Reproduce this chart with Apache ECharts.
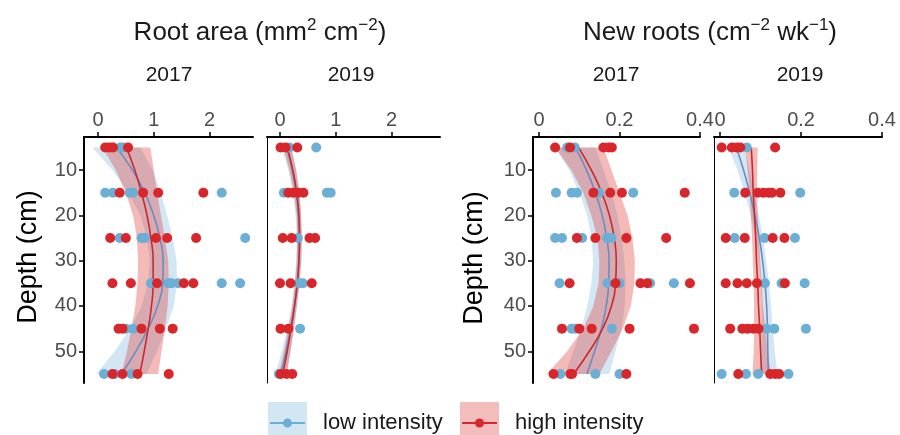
<!DOCTYPE html>
<html>
<head>
<meta charset="utf-8">
<script src="https://cdn.jsdelivr.net/npm/echarts@6/dist/echarts.min.js"></script>
<style>
  html, body { margin: 0; padding: 0; background: #fff; }
  #chart { width: 900px; height: 435px; }
</style>
</head>
<body>
<div id="chart"></div>
<script>
// depths of the fitted curves and tick labels
var depths = [5, 10, 15, 20, 25, 30, 35, 40, 45, 50, 55];
var depthTicks = [10, 20, 30, 40, 50];
var rootAreaTicks = [0, 1, 2];
var newRootsTicks = [0, 0.2, 0.4];

// observations [value, depth]
var rootArea2017Low = [[0.25,5],[0.40,5],[0.45,5],[0.13,15],[0.27,15],[0.57,15],[0.63,15],[2.22,15],
  [0.39,25],[0.78,25],[0.84,25],[2.64,25],[0.95,35],[1.26,35],[1.32,35],[1.44,35],[2.22,35],[2.55,35],
  [0.50,45],[0.63,45],[0.11,55],[0.30,55],[0.60,55]];
var rootArea2017High = [[0.13,5],[0.20,5],[0.27,5],[0.54,5],[0.39,15],[0.81,15],[1.08,15],[1.89,15],
  [0.22,25],[0.50,25],[1.04,25],[1.24,25],[1.76,25],[0.26,35],[0.59,35],[1.06,35],[1.54,35],[1.71,35],
  [0.37,45],[0.44,45],[0.78,45],[1.11,45],[1.34,45],[0.26,55],[0.44,55],[0.71,55],[1.27,55]];
var rootArea2019Low = [[0.17,5],[0.65,5],[0.07,15],[0.84,15],[0.91,15],[0.32,25],[0.34,35],[0.41,35],
  [0.36,45],[-0.02,55]];
var rootArea2019High = [[0.01,5],[0.10,5],[0.31,5],[0.15,15],[0.24,15],[0.33,15],[0.42,15],
  [0.05,25],[0.21,25],[0.53,25],[0.63,25],[0.00,35],[0.19,35],[0.57,35],[0.01,45],[0.15,45],
  [0.01,55],[0.12,55],[0.22,55]];
var newRoots2017Low = [[0.070,5],[0.089,5],[0.042,15],[0.081,15],[0.094,15],[0.149,15],[0.234,15],
  [0.040,25],[0.057,25],[0.107,25],[0.169,25],[0.180,25],[0.051,35],[0.170,35],[0.200,35],[0.276,35],[0.335,35],
  [0.081,45],[0.090,45],[0.181,45],[0.053,55],[0.140,55],[0.200,55]];
var newRoots2017High = [[0.040,5],[0.077,5],[0.160,5],[0.173,5],[0.181,5],[0.135,15],[0.177,15],[0.206,15],[0.362,15],
  [0.094,25],[0.140,25],[0.217,25],[0.316,25],[0.076,35],[0.190,35],[0.252,35],[0.269,35],[0.375,35],
  [0.057,45],[0.100,45],[0.131,45],[0.225,45],[0.385,45],[0.036,55],[0.078,55],[0.082,55],[0.217,55]];
var newRoots2019Low = [[0.066,5],[0.035,15],[0.198,15],[0.036,25],[0.110,25],[0.185,25],
  [0.111,35],[0.152,35],[0.209,35],[0.115,45],[0.134,45],[0.212,45],[0.004,55],[0.064,55],[0.094,55],[0.169,55]];
var newRoots2019High = [[0.004,5],[0.029,5],[0.041,5],[0.050,5],[0.136,5],[0.062,15],[0.093,15],[0.107,15],[0.120,15],[0.128,15],[0.149,15],
  [0.014,25],[0.061,25],[0.130,25],[0.159,25],[0.014,35],[0.043,35],[0.066,35],[0.091,35],[0.160,35],
  [0.025,45],[0.055,45],[0.068,45],[0.082,45],[0.095,45],[0.045,55],[0.124,55],[0.136,55],[0.146,55]];

// fitted curves (fit, lower, upper) at each depth
var ra17LowFit = [0.33, 0.62, 0.84, 1.00, 1.11, 1.17, 1.16, 1.07, 0.90, 0.68, 0.42];
var ra17LowLo  = [-0.10, 0.26, 0.55, 0.76, 0.88, 0.93, 0.90, 0.78, 0.58, 0.30, -0.03];
var ra17LowHi  = [0.76, 0.98, 1.13, 1.24, 1.34, 1.41, 1.42, 1.36, 1.22, 1.06, 0.87];
var ra17HighFit = [0.51, 0.66, 0.78, 0.88, 0.95, 0.99, 0.99, 0.96, 0.90, 0.83, 0.75];
var ra17HighLo  = [0.08, 0.32, 0.50, 0.63, 0.70, 0.72, 0.71, 0.67, 0.60, 0.52, 0.42];
var ra17HighHi  = [0.94, 1.00, 1.06, 1.13, 1.20, 1.26, 1.27, 1.25, 1.20, 1.14, 1.08];

var ra19LowFit = [0.12, 0.22, 0.29, 0.33, 0.35, 0.34, 0.31, 0.26, 0.19, 0.11, 0.02];
var ra19LowLo  = [0.03, 0.15, 0.23, 0.28, 0.30, 0.29, 0.26, 0.21, 0.13, 0.03, -0.08];
var ra19LowHi  = [0.21, 0.29, 0.35, 0.38, 0.40, 0.39, 0.36, 0.31, 0.25, 0.19, 0.12];
var ra19HighFit = [0.13, 0.23, 0.30, 0.34, 0.35, 0.34, 0.31, 0.26, 0.20, 0.13, 0.05];
var ra19HighLo  = [0.06, 0.17, 0.25, 0.30, 0.31, 0.30, 0.27, 0.22, 0.15, 0.07, -0.02];
var ra19HighHi  = [0.20, 0.29, 0.35, 0.38, 0.39, 0.38, 0.35, 0.30, 0.25, 0.19, 0.12];

var nr17LowFit = [0.090, 0.118, 0.140, 0.157, 0.168, 0.174, 0.173, 0.167, 0.155, 0.138, 0.119];
var nr17LowLo  = [0.040, 0.075, 0.100, 0.120, 0.130, 0.135, 0.130, 0.120, 0.105, 0.085, 0.065];
var nr17LowHi  = [0.140, 0.160, 0.180, 0.195, 0.205, 0.212, 0.215, 0.213, 0.205, 0.190, 0.175];
var nr17HighFit = [0.098, 0.130, 0.156, 0.175, 0.187, 0.192, 0.190, 0.180, 0.158, 0.125, 0.086];
var nr17HighLo  = [0.040, 0.080, 0.110, 0.130, 0.145, 0.150, 0.148, 0.135, 0.110, 0.070, 0.020];
var nr17HighHi  = [0.160, 0.180, 0.200, 0.220, 0.232, 0.238, 0.237, 0.228, 0.208, 0.180, 0.150];

var nr19LowFit = [0.040, 0.058, 0.073, 0.086, 0.097, 0.105, 0.111, 0.115, 0.117, 0.118, 0.119];
var nr19LowLo  = [0.020, 0.043, 0.061, 0.076, 0.088, 0.096, 0.101, 0.104, 0.104, 0.101, 0.096];
var nr19LowHi  = [0.060, 0.073, 0.085, 0.096, 0.106, 0.114, 0.121, 0.126, 0.130, 0.135, 0.142];
var nr19HighFit = [0.077, 0.080, 0.082, 0.085, 0.088, 0.090, 0.093, 0.095, 0.098, 0.100, 0.103];
var nr19HighLo  = [0.062, 0.068, 0.073, 0.076, 0.079, 0.081, 0.083, 0.084, 0.084, 0.083, 0.080];
var nr19HighHi  = [0.093, 0.092, 0.091, 0.093, 0.096, 0.099, 0.103, 0.106, 0.112, 0.117, 0.126];

var blue = '#6baed6', red = '#d9262b';
var blueBand = 'rgba(107,174,214,0.3)', redBand = 'rgba(222,45,38,0.33)';
var font = 'Liberation Sans';

function xAxis(gi, min, max, ticks) {
  return {
    gridIndex: gi, type: 'value', position: 'top', min: min, max: max,
    axisLine: { show: true, onZero: false, lineStyle: { color: '#000', width: 2 } },
    axisTick: { show: true, length: 5, customValues: ticks, lineStyle: { color: '#000', width: 1.5 } },
    axisLabel: { customValues: ticks, color: '#4d4d4d', fontSize: 20, fontFamily: font, margin: 7 },
    splitLine: { show: false }
  };
}

function yAxis(gi, labels) {
  return {
    gridIndex: gi, type: 'value', inverse: true, min: 2.7, max: 57,
    axisLine: { show: true, onZero: false, lineStyle: { color: '#000', width: labels ? 2 : 1 } },
    axisTick: { show: labels, length: 5, customValues: depthTicks, lineStyle: { color: '#000', width: 1.5 } },
    axisLabel: { show: labels, customValues: depthTicks, color: '#4d4d4d', fontSize: 20, fontFamily: font, margin: 7 },
    splitLine: { show: false }
  };
}

function band(gi, lo, hi, color) {
  return {
    type: 'custom', xAxisIndex: gi, yAxisIndex: gi, silent: true, z: 2,
    data: [[lo[0], depths[0]]],
    renderItem: function (params, api) {
      var pts = [];
      for (var i = 0; i < depths.length; i++) pts.push(api.coord([lo[i], depths[i]]));
      for (var j = depths.length - 1; j >= 0; j--) pts.push(api.coord([hi[j], depths[j]]));
      return { type: 'polygon', shape: { points: pts }, style: { fill: color } };
    }
  };
}

function curve(gi, fit, color) {
  return {
    type: 'line', xAxisIndex: gi, yAxisIndex: gi, silent: true, z: 2,
    smooth: true, showSymbol: false,
    lineStyle: { color: color, width: 1.6 },
    data: fit.map(function (v, i) { return [v, depths[i]]; })
  };
}

function dots(gi, data, color) {
  return {
    type: 'scatter', xAxisIndex: gi, yAxisIndex: gi, z: 3,
    symbolSize: 10, itemStyle: { color: color, opacity: 1 },
    data: data
  };
}

var series = [];
var panels = [
  [rootArea2017Low, rootArea2017High, ra17LowFit, ra17LowLo, ra17LowHi, ra17HighFit, ra17HighLo, ra17HighHi],
  [rootArea2019Low, rootArea2019High, ra19LowFit, ra19LowLo, ra19LowHi, ra19HighFit, ra19HighLo, ra19HighHi],
  [newRoots2017Low, newRoots2017High, nr17LowFit, nr17LowLo, nr17LowHi, nr17HighFit, nr17HighLo, nr17HighHi],
  [newRoots2019Low, newRoots2019High, nr19LowFit, nr19LowLo, nr19LowHi, nr19HighFit, nr19HighLo, nr19HighHi]
];
panels.forEach(function (p, gi) {
  series.push(band(gi, p[3], p[4], blueBand));
  series.push(curve(gi, p[2], '#6a8cbf'));
  series.push(band(gi, p[6], p[7], redBand));
  series.push(curve(gi, p[5], '#c62a30'));
  series.push(dots(gi, p[0], blue));
  series.push(dots(gi, p[1], red));
});

function label(x, y, text, size, extra) {
  var s = { text: text, fontSize: size, fontFamily: font, fill: '#1a1a1a', align: 'center', verticalAlign: 'middle' };
  for (var k in extra) s[k] = extra[k];
  return { type: 'text', x: x, y: y, style: s };
}

var titleRich = {
  n: { fontSize: 26, fontFamily: font, color: '#000', lineHeight: 32 },
  s: { fontSize: 17, fontFamily: font, color: '#000', verticalAlign: 'top', lineHeight: 17 }
};

var graphics = [
  label(260, 33, '{n|Root area (mm}{s|2}{n| cm}{s|\u22122}{n|)}', 26, { rich: titleRich }),
  label(710, 33, '{n|New roots (cm}{s|\u22122}{n| wk}{s|\u22121}{n|)}', 26, { rich: titleRich }),
  label(169, 75, '2017', 21),
  label(351, 75, '2019', 21),
  label(616, 75, '2017', 21),
  label(800, 75, '2019', 21),
  { type: 'text', x: 29, y: 257, rotation: Math.PI / 2,
    style: { text: 'Depth (cm)', fontSize: 27, fontFamily: font, fill: '#000', align: 'center', verticalAlign: 'middle' } },
  { type: 'text', x: 475, y: 258, rotation: Math.PI / 2,
    style: { text: 'Depth (cm)', fontSize: 27, fontFamily: font, fill: '#000', align: 'center', verticalAlign: 'middle' } },
  // legend keys
  { type: 'rect', shape: { x: 268, y: 402, width: 39, height: 34 }, style: { fill: '#d3e7f3' } },
  { type: 'line', shape: { x1: 270, y1: 423, x2: 305, y2: 423 }, style: { stroke: blue, lineWidth: 2 } },
  { type: 'circle', shape: { cx: 287.5, cy: 423, r: 4.5 }, style: { fill: blue } },
  label(323, 423, 'low intensity', 22, { align: 'left' }),
  { type: 'rect', shape: { x: 460, y: 402, width: 39, height: 34 }, style: { fill: '#f4bdbd' } },
  { type: 'line', shape: { x1: 462, y1: 423, x2: 497, y2: 423 }, style: { stroke: red, lineWidth: 2 } },
  { type: 'circle', shape: { cx: 479.5, cy: 423, r: 4.5 }, style: { fill: red } },
  label(515, 423, 'high intensity', 22, { align: 'left' })
];

var chart = echarts.init(document.getElementById('chart'));
chart.setOption({
  animation: false,
  backgroundColor: '#fff',
  grid: [
    { left: 84, top: 137, width: 169, height: 246 },
    { left: 267, top: 137, width: 173, height: 246 },
    { left: 533, top: 137, width: 167, height: 246 },
    { left: 714, top: 137, width: 168, height: 246 }
  ],
  xAxis: [
    xAxis(0, -0.25, 2.78, rootAreaTicks),
    xAxis(1, -0.233, 2.87, rootAreaTicks),
    xAxis(2, -0.015, 0.4, newRootsTicks),
    xAxis(3, -0.015, 0.4, newRootsTicks)
  ],
  yAxis: [yAxis(0, true), yAxis(1, false), yAxis(2, true), yAxis(3, false)],
  graphic: graphics,
  series: series
});
</script>
</body>
</html>
